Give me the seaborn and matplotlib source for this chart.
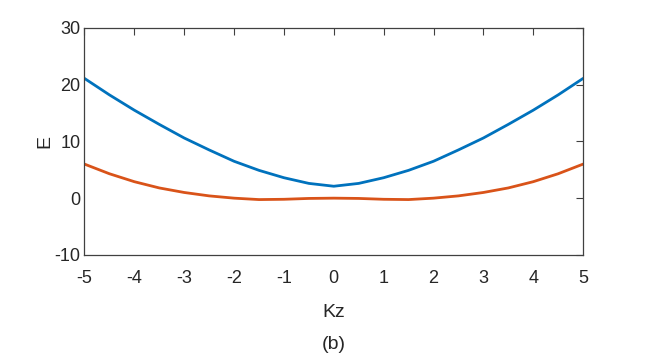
import matplotlib
matplotlib.use("Agg")
import matplotlib.pyplot as plt
import numpy as np
import pandas as pd
import seaborn as sns

# Kz sample points and the two energy branches
kz = [-5, -4.5, -4, -3.5, -3, -2.5, -2, -1.5, -1, -0.5, 0,
      0.5, 1, 1.5, 2, 2.5, 3, 3.5, 4, 4.5, 5]
e_upper = [21.1, 18.2, 15.5, 13.0, 10.6, 8.5, 6.5, 4.9, 3.6, 2.6, 2.1,
           2.6, 3.6, 4.9, 6.5, 8.5, 10.6, 13.0, 15.5, 18.2, 21.1]
e_lower = [6.0, 4.3, 2.9, 1.8, 1.0, 0.4, 0.0, -0.25, -0.2, -0.05, 0.0,
           -0.05, -0.2, -0.25, 0.0, 0.4, 1.0, 1.8, 2.9, 4.3, 6.0]
x_ticks = [-5, -4, -3, -2, -1, 0, 1, 2, 3, 4, 5]
y_ticks = [-10, 0, 10, 20, 30]

sns.set_style("white")
plt.rcParams['font.family'] = ['Liberation Sans Narrow', 'Liberation Sans', 'DejaVu Sans']

df = pd.DataFrame({'Kz': kz * 2,
                   'E': e_upper + e_lower,
                   'branch': ['upper'] * len(kz) + ['lower'] * len(kz)})

fig = plt.figure(figsize=(6.45, 3.58), dpi=100)
ax = fig.add_axes([0.131, 0.288, 0.773, 0.634])

sns.lineplot(data=df, x='Kz', y='E', hue='branch', ax=ax,
             palette={'upper': '#0072BD', 'lower': '#D95319'},
             linewidth=2.0, legend=False, sort=False)

ax.set_xlim(-5, 5)
ax.set_ylim(-10, 30)
ax.set_xticks(x_ticks)
ax.set_yticks(y_ticks)
ax.set_xticklabels([str(t) for t in x_ticks])
ax.set_yticklabels([str(t) for t in y_ticks])

axis_col = '#404040'
for side in ['top', 'right', 'bottom', 'left']:
    ax.spines[side].set_visible(True)
    ax.spines[side].set_color(axis_col)
    ax.spines[side].set_linewidth(0.9)
ax.tick_params(direction='in', length=5, width=0.8, color=axis_col,
               top=True, right=True, labelsize=13, labelcolor='#262626')
ax.tick_params(axis='x', pad=11)
ax.tick_params(axis='y', pad=3)

ax.set_xlabel('Kz', fontsize=14, color='#262626', labelpad=12)
ax.set_ylabel('E', fontsize=14, color='#262626', labelpad=1)
fig.text(0.517, 0.039, '(b)', fontsize=14, color='#262626',
         ha='center', va='center')

fig.savefig('out.png', dpi=100)
